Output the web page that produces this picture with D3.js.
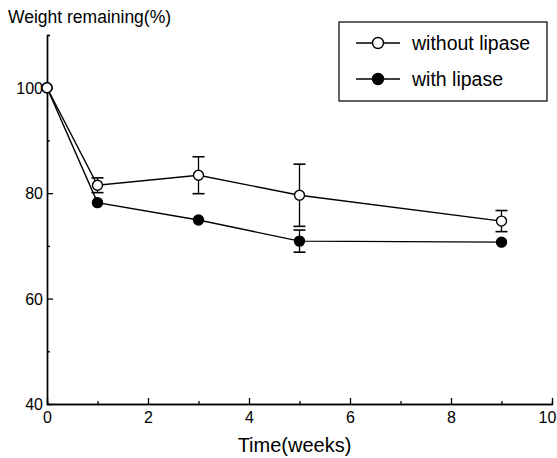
<!DOCTYPE html>
<html>
<head>
<meta charset="utf-8">
<script src="https://cdn.jsdelivr.net/npm/d3@7"></script>
<style>
  body { margin: 0; background: #fff; }
  text { font-family: Arial, "Liberation Sans", sans-serif; fill: #000; }
</style>
</head>
<body>
<div id="viz"></div>
<script>
// data
var weeks = [0, 1, 3, 5, 9]
var withoutLipase = [100, 81.5, 83.4, 79.6, 74.7]
var withoutErr = [0, 1.4, 3.5, 5.9, 2.0]
var withLipase = [100, 78.2, 74.9, 70.9, 70.7]
var withErr = [0, 0, 0, 2.1, 0]
var xTicks = [0, 2, 4, 6, 8, 10]
var yTicks = [40, 60, 80, 100]

var W = 557, H = 458
var x = d3.scaleLinear().domain([0, 10]).range([47, 552])
var y = d3.scaleLinear().domain([40, 110]).range([404, 35])

var svg = d3.select("#viz")
    .append("svg")
    .attr("width", W)
    .attr("height", H)

// axes, ticks pointing inward
var xAxis = svg.append("g")
    .attr("transform", "translate(0," + y(40) + ")")
    .call(d3.axisBottom(x).tickValues(xTicks).tickSizeInner(-6).tickSizeOuter(0).tickPadding(8))
xAxis.append("g")
    .call(d3.axisBottom(x).tickValues(d3.range(1, 10, 2)).tickSize(-3).tickFormat(""))
var yAxis = svg.append("g")
    .attr("transform", "translate(" + x(0) + ",0)")
    .call(d3.axisLeft(y).tickValues(yTicks).tickSizeInner(-6).tickSizeOuter(0).tickPadding(4))
yAxis.append("g")
    .call(d3.axisLeft(y).tickValues([50, 70, 90, 110]).tickSize(-3).tickFormat(""))

svg.selectAll(".domain").attr("stroke", "#000").attr("stroke-width", 1.4)
svg.selectAll(".tick line").attr("stroke", "#000").attr("stroke-width", 1.3)
svg.selectAll(".tick text").style("font-size", "16px")
yAxis.selectAll(".tick text").attr("dy", "0.34em")
// last x label sits a little left of its tick, as in the original
xAxis.selectAll(".tick text").filter(d => d === 10).attr("dx", -5)

svg.append("text")
    .attr("x", 8).attr("y", 23)
    .style("font-size", "17.5px")
    .text("Weight remaining(%)")
svg.append("text")
    .attr("x", x(5) - 5).attr("y", 452)
    .attr("text-anchor", "middle")
    .style("font-size", "20px")
    .text("Time(weeks)")

var line = d3.line()
    .x((d, i) => x(weeks[i]))
    .y(d => y(d))

function drawSeries(vals, errs, fill) {
    var g = svg.append("g")
    g.append("path")
        .datum(vals)
        .attr("d", line)
        .attr("fill", "none")
        .attr("stroke", "#000")
        .attr("stroke-width", 1.4)
    var eb = g.selectAll(".err")
        .data(vals.map((v, i) => ({ x: weeks[i], v: v, e: errs[i] })).filter(d => d.e > 0))
        .enter().append("g")
    eb.append("line")
        .attr("x1", d => x(d.x)).attr("x2", d => x(d.x))
        .attr("y1", d => y(d.v + d.e)).attr("y2", d => y(d.v - d.e))
        .attr("stroke", "#000").attr("stroke-width", 1.3)
    eb.append("line")
        .attr("x1", d => x(d.x) - 6).attr("x2", d => x(d.x) + 6)
        .attr("y1", d => y(d.v + d.e)).attr("y2", d => y(d.v + d.e))
        .attr("stroke", "#000").attr("stroke-width", 1.6)
    eb.append("line")
        .attr("x1", d => x(d.x) - 6).attr("x2", d => x(d.x) + 6)
        .attr("y1", d => y(d.v - d.e)).attr("y2", d => y(d.v - d.e))
        .attr("stroke", "#000").attr("stroke-width", 1.6)
    g.selectAll("circle")
        .data(vals)
        .enter().append("circle")
        .attr("cx", (d, i) => x(weeks[i]))
        .attr("cy", d => y(d))
        .attr("r", 5)
        .attr("fill", fill)
        .attr("stroke", "#000")
        .attr("stroke-width", 1.4)
}

drawSeries(withLipase, withErr, "#000")
drawSeries(withoutLipase, withoutErr, "#fff")

// legend
var lg = svg.append("g")
lg.append("rect")
    .attr("x", 339).attr("y", 22)
    .attr("width", 208).attr("height", 79)
    .attr("fill", "#fff").attr("stroke", "#000").attr("stroke-width", 1.2)
var items = [["without lipase", "#fff"], ["with lipase", "#000"]]
items.forEach((it, i) => {
    var yy = 43 + i * 36
    lg.append("line")
        .attr("x1", 356).attr("x2", 400)
        .attr("y1", yy).attr("y2", yy)
        .attr("stroke", "#000").attr("stroke-width", 1.4)
    lg.append("circle")
        .attr("cx", 378).attr("cy", yy).attr("r", 5.5)
        .attr("fill", it[1]).attr("stroke", "#000").attr("stroke-width", 1.4)
    lg.append("text")
        .attr("x", 412).attr("y", yy + 7)
        .style("font-size", "19.5px")
        .text(it[0])
})
</script>
</body>
</html>
